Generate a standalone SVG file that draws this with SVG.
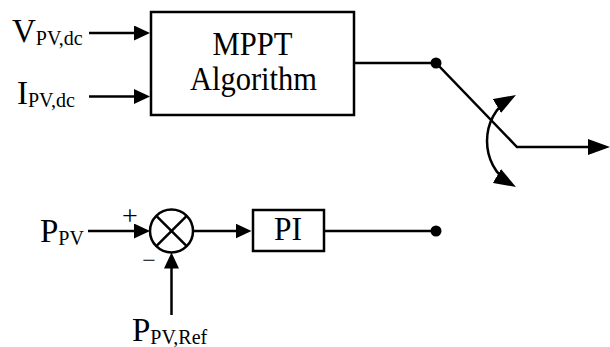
<svg xmlns="http://www.w3.org/2000/svg" width="610" height="347" viewBox="0 0 610 347">
<style>
.ln{fill:none;stroke:#000;stroke-width:2.5}
.bx{fill:#fff;stroke:#000;stroke-width:2.5}
text{font-family:'Liberation Serif','Times New Roman','DejaVu Serif',serif;font-size:33px;fill:#000}
.s{font-size:20px}
.dot{fill:#000}
</style>
<defs>
<marker id="arr" markerUnits="userSpaceOnUse" markerWidth="16" markerHeight="15" refX="10" refY="7.5" orient="auto" viewBox="0 0 16 15">
<path d="M0,0 L16,7.5 L0,15 z" fill="#000"/>
</marker>
<marker id="arr2" markerUnits="userSpaceOnUse" markerWidth="22" markerHeight="16" refX="16" refY="8" orient="auto-start-reverse" viewBox="0 0 22 16">
<path d="M0,0 L22,8 L0,16 z" fill="#000"/>
</marker>
</defs>
<g id="connectors">
<line class="ln" x1="89" y1="33" x2="144" y2="33" marker-end="url(#arr)"/>
<line class="ln" x1="89" y1="96.5" x2="144" y2="96.5" marker-end="url(#arr)"/>
<polyline class="ln" points="355,63 436,63 517,147 604,147" marker-end="url(#arr2)"/>
<path class="ln" d="M510.8,98 C479.1,116.3 479.1,165.7 510.8,184" marker-start="url(#arr2)" marker-end="url(#arr2)"/>
<line class="ln" x1="88" y1="231" x2="144" y2="231" marker-end="url(#arr)"/>
<line class="ln" x1="171.5" y1="315" x2="171.5" y2="258.5" marker-end="url(#arr)"/>
<line class="ln" x1="193" y1="231" x2="245.5" y2="231" marker-end="url(#arr)"/>
<line class="ln" x1="325" y1="231" x2="436" y2="231"/>
</g>
<g id="mppt">
<rect class="bx" x="151" y="12" width="203" height="103"/>
<text x="252.5" y="55" text-anchor="middle" textLength="80" lengthAdjust="spacingAndGlyphs">MPPT</text>
<text x="253.5" y="90" text-anchor="middle" textLength="127" lengthAdjust="spacingAndGlyphs">Algorithm</text>
</g>
<g id="vpv"><text x="12" y="42">V<tspan class="s" dy="3">PV,dc</tspan></text></g>
<g id="ipv"><text x="17" y="104">I<tspan class="s" dy="3">PV,dc</tspan></text></g>
<g id="switch">
<circle class="dot" cx="436" cy="63" r="5.5"/>
</g>
<g id="ppv"><text x="40" y="241.5">P<tspan class="s" dy="3">PV</tspan></text></g>
<g id="sum">
<circle class="ln" cx="171.5" cy="231" r="21.5"/>
<line class="ln" x1="156.3" y1="215.8" x2="186.7" y2="246.2"/>
<line class="ln" x1="186.7" y1="215.8" x2="156.3" y2="246.2"/>
<text x="130" y="224.5" text-anchor="middle" style="font-size:28px">+</text>
<text x="149" y="268" text-anchor="middle" style="font-size:24px">−</text>
</g>
<g id="ppvref"><text x="132" y="341">P<tspan class="s" dy="3">PV,Ref</tspan></text></g>
<g id="pi">
<rect class="bx" x="253" y="210" width="71" height="41"/>
<text x="288" y="240" text-anchor="middle" textLength="28" lengthAdjust="spacingAndGlyphs">PI</text>
</g>
<g id="out">
<circle class="dot" cx="436" cy="231" r="5.5"/>
</g>
</svg>
